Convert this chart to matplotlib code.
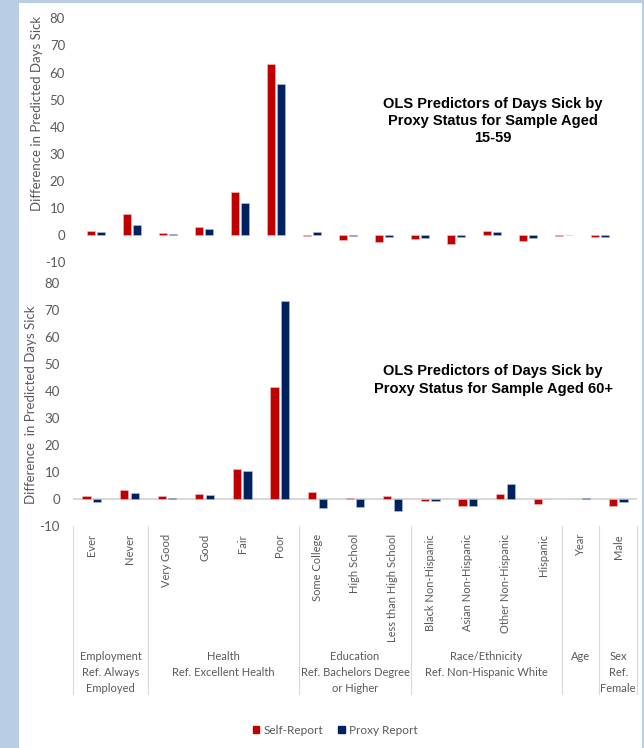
import matplotlib.pyplot as plt
import numpy as np
from matplotlib.patches import Rectangle, Patch
from matplotlib.lines import Line2D

plt.rcParams['axes.unicode_minus'] = False

# OLS coefficients (difference in predicted days sick)
categories = ['Ever', 'Never', 'Very Good', 'Good', 'Fair', 'Poor',
              'Some College', 'High School', 'Less than High School',
              'Black Non-Hispanic', 'Asian Non-Hispanic', 'Other Non-Hispanic',
              'Hispanic', 'Year', 'Male']

self_15_59 = [1.7, 7.9, 0.85, 2.9, 15.9, 63.2, -0.2, -1.7, -2.6, -1.5, -3.2, 1.6, -2.0, -0.15, -0.6]
proxy_15_59 = [1.3, 3.9, 0.6, 2.4, 11.7, 55.6, 1.1, -0.3, -0.8, -1.0, -0.6, 1.1, -1.2, -0.1, -0.5]

self_60 = [1.1, 3.4, 1.2, 2.0, 11.1, 41.7, 2.6, 0.3, 1.1, -0.6, -2.3, 2.1, -1.9, 0.0, -2.6]
proxy_60 = [-0.9, 2.5, 0.6, 1.5, 10.4, 73.3, -3.3, -2.7, -4.4, -0.5, -2.6, 5.6, 0.0, 0.5, -1.0]

# grouping of the predictors: (label, first index, last index)
groups = [('Employment\nRef. Always\nEmployed', 0, 1),
          ('Health\nRef. Excellent Health', 2, 5),
          ('Education\nRef. Bachelors Degree\nor Higher', 6, 8),
          ('Race/Ethnicity\nRef. Non-Hispanic White', 9, 12),
          ('Age', 13, 13),
          ('Sex\nRef.\nFemale', 14, 14)]

RED = '#C00000'
BLUE = '#002060'
GREY = '#595959'
W, H = 644, 748

fig = plt.figure(figsize=(W / 100, H / 100), dpi=100, facecolor='#B9CDE5')
fig.add_artist(Rectangle((19 / W, 0), (642 - 19) / W, 1 - 3 / H,
                         transform=fig.transFigure, facecolor='white',
                         edgecolor='none', zorder=-10))


def px_axes(left, top, right, bottom):
    return fig.add_axes([left / W, 1 - bottom / H, (right - left) / W, (bottom - top) / H])


def draw_bars(ax, s, p, zero_line):
    x = np.arange(len(categories))
    ax.bar(x - 0.14, s, 0.22, color=RED, edgecolor='#f2c4c4', linewidth=0.4)
    ax.bar(x + 0.14, p, 0.22, color=BLUE, edgecolor='#b4c2dc', linewidth=0.4)
    ax.set_xlim(-0.5, len(categories) - 0.5)
    ax.set_ylim(-10, 80)
    ax.set_yticks(range(-10, 81, 10))
    ax.set_xticks([])
    ax.tick_params(axis='y', length=0, pad=9.5, labelsize=9.5, labelcolor=GREY)
    for lab in ax.get_yticklabels():
        lab.set_family('Lato')
    for sp in ax.spines.values():
        sp.set_visible(False)
    ax.patch.set_alpha(0)
    if zero_line:
        ax.axhline(0, color='#d9d9d9', linewidth=1.5, zorder=0)


ax1 = px_axes(78.2, 18.3, 618.2, 262.3)
draw_bars(ax1, self_15_59, proxy_15_59, False)
ax2 = px_axes(73, 283.3, 637, 526.3)
draw_bars(ax2, self_60, proxy_60, True)

fig.text(37 / W, 1 - 113 / H, 'Difference in Predicted Days Sick', rotation=90,
         ha='center', va='center', color=GREY, fontsize=9.5, family='Lato')
fig.text(31 / W, 1 - 405 / H, 'Difference  in Predicted Days Sick', rotation=90,
         ha='center', va='center', color=GREY, fontsize=9.5, family='Lato')

fig.text(493 / W, 1 - 121 / H,
         'OLS Predictors of Days Sick by\nProxy Status for Sample Aged\n15-59',
         ha='center', va='center', fontsize=10.5, fontweight='bold',
         family='Liberation Sans', linespacing=1.3)
fig.text(493 / W, 1 - 380 / H,
         'OLS Predictors of Days Sick by\nProxy Status for Sample Aged 60+',
         ha='center', va='center', fontsize=10.5, fontweight='bold',
         family='Liberation Sans', linespacing=1.3)

# category labels under the lower panel
cat_w = (637 - 73) / len(categories)
for i, c in enumerate(categories):
    fig.text((73 + cat_w * (i + 0.5)) / W, 1 - 534 / H, c, rotation=90,
             ha='center', va='top', color=GREY, fontsize=8, family='Lato')

# group separators and group labels
edges = [73 + cat_w * g[1] for g in groups] + [637]
for e in edges:
    fig.add_artist(Line2D([e / W, e / W], [1 - 526 / H, 1 - 694 / H],
                          color='#d9d9d9', linewidth=0.8))
for label, a, b in groups:
    xc = 73 + cat_w * (a + b + 1) / 2
    fig.text(xc / W, 1 - 651.5 / H, label, ha='center', va='top', color=GREY,
             fontsize=8, family='Lato', linespacing=1.5)

fig.legend(handles=[Patch(color=RED, label='Self-Report'),
                    Patch(color=BLUE, label='Proxy Report')],
           loc='center', bbox_to_anchor=(335 / W, 1 - 730 / H), ncol=2,
           frameon=False, handlelength=0.55, handleheight=0.55, handletextpad=0.35,
           columnspacing=1.3, prop={'family': 'Lato', 'size': 8.5},
           labelcolor=GREY)

fig.savefig('out.png', dpi=100, facecolor=fig.get_facecolor())
